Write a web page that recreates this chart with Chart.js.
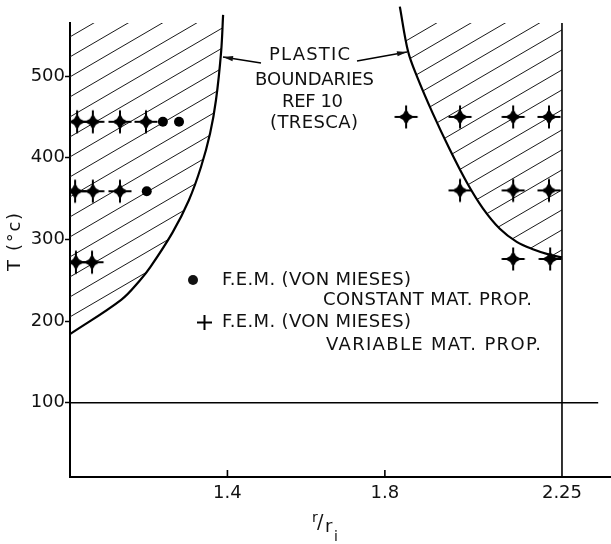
<!DOCTYPE html>
<html><head><meta charset="utf-8">
<script src="https://cdn.jsdelivr.net/npm/chart.js@4"></script>
<style>html,body{margin:0;padding:0;background:#fff;overflow:hidden}#wrap{width:611px;height:544px;position:relative;overflow:hidden}canvas{display:block}</style>
</head><body><div id="wrap"><canvas id="c" width="611" height="544"></canvas></div>
<script>
// ---- data ----
const xTicks = [1.4, 1.8, 2.25];
const xTickLabels = ['1.4', '1.8', '2.25'];
const yTicks = [100, 200, 300, 400, 500];
const xRange = [1.0, 2.372];
const yRange = [9, 565];

const leftBoundR = [1.000, 1.130, 1.178, 1.204, 1.260, 1.302, 1.333, 1.356, 1.371, 1.384, 1.389];
const leftBoundT = [184, 226, 250, 266, 308, 348, 389, 430, 471, 530, 575];
const rightBoundR = [1.838, 1.859, 1.882, 1.922, 1.965, 2.009, 2.049, 2.092, 2.135, 2.176, 2.220, 2.250];
const rightBoundT = [585, 530, 499, 454, 410, 369, 338, 313, 297, 288, 281, 278];

const constR = [1.236, 1.277, 1.195];
const constT = [444, 444, 359];
const varR = [1.018, 1.058, 1.127, 1.193, 1.013, 1.058, 1.127, 1.015, 1.056,
              1.854, 1.991, 2.126, 2.217, 1.991, 2.126, 2.217, 2.126, 2.220];
const varT = [444, 444, 444, 444, 359, 359, 359, 272, 272,
              450, 450, 450, 450, 360, 360, 360, 276, 276];
const refLineT = 100;
const refLineR = [1.0, 2.342];
const outerR = 2.25;

// ---- helpers ----
const FONT = '"DejaVu Sans"';
const pts = (rs, ts) => rs.map((r, i) => ({x: r, y: ts[i]}));

function makeHatch() {
  const W = 240, H = 20, c = document.createElement('canvas');
  c.width = W; c.height = H;
  const g = c.getContext('2d');
  g.strokeStyle = '#1a1a1a'; g.lineWidth = 1;
  const phase = 17.7;
  for (let k = -2; k <= 10; k++) {
    g.beginPath();
    g.moveTo(0, phase + 20 * k);
    g.lineTo(W, phase + 20 * k - 140);
    g.stroke();
  }
  return g.createPattern(c, 'repeat');
}
const hatch = makeHatch();

function makeStar() {
  const S = 26, c = document.createElement('canvas');
  c.width = S; c.height = S;
  const g = c.getContext('2d'), m = S / 2;
  g.strokeStyle = '#000'; g.lineWidth = 2;
  g.beginPath(); g.moveTo(1.5, m); g.lineTo(S - 1.5, m); g.moveTo(m, 1.5); g.lineTo(m, S - 1.5); g.stroke();
  g.fillStyle = '#000';
  g.beginPath();
  const ro = 8.2, ri = 4.2;
  for (let i = 0; i < 8; i++) {
    const a = i * Math.PI / 4;
    const r = i % 2 === 0 ? ro : ri;
    const px = m + r * Math.cos(a), py = m + r * Math.sin(a);
    if (i === 0) g.moveTo(px, py); else g.lineTo(px, py);
  }
  g.closePath(); g.fill();
  return c;
}
const star = makeStar();

function drawFit(ctx, text, x, y, w, align) {
  ctx.letterSpacing = '0px';
  const m = ctx.measureText(text).width;
  const n = text.length;
  const ls = n > 1 ? (w - m) / (n - 1) : 0;
  ctx.letterSpacing = ls + 'px';
  const x0 = align === 'center' ? x - w / 2 : x;
  ctx.textAlign = 'left';
  ctx.fillText(text, x0, y);
  ctx.letterSpacing = '0px';
}

function arrow(ctx, x1, y1, x2, y2) {
  ctx.beginPath(); ctx.moveTo(x1, y1); ctx.lineTo(x2, y2); ctx.stroke();
  const a = Math.atan2(y2 - y1, x2 - x1), L = 10, h = 2.6;
  ctx.beginPath();
  ctx.moveTo(x2, y2);
  ctx.lineTo(x2 - L * Math.cos(a) + h * Math.sin(a), y2 - L * Math.sin(a) - h * Math.cos(a));
  ctx.lineTo(x2 - L * Math.cos(a) - h * Math.sin(a), y2 - L * Math.sin(a) + h * Math.cos(a));
  ctx.closePath(); ctx.fill();
}

const annot = {
  id: 'annot',
  afterDraw(chart) {
    const ctx = chart.ctx, xs = chart.scales.x;
    ctx.save();
    ctx.fillStyle = '#111'; ctx.strokeStyle = '#000';
    // inward x ticks
    ctx.lineWidth = 1.6;
    xTicks.slice(0, 2).forEach(v => {
      const px = xs.getPixelForValue(v);
      ctx.beginPath(); ctx.moveTo(px, chart.chartArea.bottom); ctx.lineTo(px, chart.chartArea.bottom - 7); ctx.stroke();
    });
    ctx.textBaseline = 'middle';
    ctx.font = '18px ' + FONT;
    // annotation
    drawFit(ctx, 'PLASTIC', 309.5, 55, 81, 'center');
    drawFit(ctx, 'BOUNDARIES', 314.5, 80, 119, 'center');
    drawFit(ctx, 'REF 10', 312.5, 102, 61, 'center');
    drawFit(ctx, '(TRESCA)', 314, 123, 88, 'center');
    ctx.lineWidth = 1.3;
    arrow(ctx, 261, 63, 223, 57);
    arrow(ctx, 357, 61, 407, 52);
    // legend
    ctx.beginPath(); ctx.arc(193, 280, 5, 0, Math.PI * 2); ctx.fill();
    ctx.lineWidth = 2;
    ctx.beginPath(); ctx.moveTo(197, 322.5); ctx.lineTo(212, 322.5); ctx.moveTo(204.5, 315); ctx.lineTo(204.5, 330); ctx.stroke();
    drawFit(ctx, 'F.E.M. (VON MIESES)', 222, 280, 189, 'left');
    drawFit(ctx, 'CONSTANT MAT. PROP.', 323, 300, 209, 'left');
    drawFit(ctx, 'F.E.M. (VON MIESES)', 222, 322, 189, 'left');
    drawFit(ctx, 'VARIABLE MAT. PROP.', 326, 345, 215, 'left');
    // y title
    ctx.save();
    ctx.translate(15, 242); ctx.rotate(-Math.PI / 2);
    drawFit(ctx, 'T (°c)', 0, 0, 58, 'center');
    ctx.restore();
    // x title r/ri
    ctx.textAlign = 'left';
    ctx.font = '14px ' + FONT; ctx.fillText('r', 312, 518);
    ctx.font = '19px ' + FONT; ctx.fillText('/', 317, 523);
    ctx.font = '18px ' + FONT; ctx.fillText('r', 325, 527);
    ctx.font = '14px ' + FONT; ctx.fillText('i', 334, 537);
    ctx.restore();
  }
};

Chart.defaults.font.family = FONT;
Chart.defaults.color = '#111';

const curveBase = {type: 'line', pointRadius: 0, cubicInterpolationMode: 'default', tension: 0.35, capBezierPoints: false};

new Chart(document.getElementById('c'), {
  type: 'scatter',
  data: {datasets: [
    Object.assign({}, curveBase, {label: 'left hatch', data: pts(leftBoundR, leftBoundT), fill: 'end', backgroundColor: hatch, borderWidth: 0, order: 6}),
    Object.assign({}, curveBase, {label: 'right hatch', data: pts(rightBoundR, rightBoundT), fill: 'end', backgroundColor: hatch, borderWidth: 0, order: 6}),
    Object.assign({}, curveBase, {label: 'Plastic boundary (left)', data: pts(leftBoundR, leftBoundT), fill: false, borderColor: '#000', borderWidth: 2.2, clip: {left: 2, top: 20, right: 0, bottom: 0}, order: 3}),
    Object.assign({}, curveBase, {label: 'Plastic boundary (right)', data: pts(rightBoundR, rightBoundT), fill: false, borderColor: '#000', borderWidth: 2.2, clip: {left: 0, top: 20, right: 0, bottom: 0}, order: 3}),
    {type: 'line', label: 'T=100', data: pts(refLineR, [refLineT, refLineT]), borderColor: '#000', borderWidth: 1.5, pointRadius: 0, fill: false, order: 4},
    {type: 'line', label: 'r/ri=2.25', data: pts([outerR, outerR], yRange), borderColor: '#000', borderWidth: 1.6, pointRadius: 0, fill: false, order: 4},
    {label: 'F.E.M. constant', data: pts(constR, constT), pointStyle: 'circle', pointRadius: 5, backgroundColor: '#000', borderColor: '#000', borderWidth: 0, order: 1},
    {label: 'F.E.M. variable', data: pts(varR, varT), pointStyle: star, pointRadius: 12, order: 1}
  ]},
  options: {
    animation: false, responsive: false, maintainAspectRatio: false, devicePixelRatio: 1,
    layout: {autoPadding: false, padding: {top: 23, right: 1, left: 0, bottom: 0}},
    plugins: {legend: {display: false}, tooltip: {enabled: false}},
    scales: {
      x: {
        type: 'linear', min: xRange[0], max: xRange[1],
        afterBuildTicks: s => { s.ticks = xTicks.map(v => ({value: v})); },
        afterFit: s => { s.height = 67; s.paddingLeft = 0; s.paddingRight = 0; },
        ticks: {font: {size: 18}, padding: -2, maxRotation: 0, autoSkip: false,
                callback: v => { const i = xTicks.indexOf(v); return i >= 0 ? xTickLabels[i] : ''; }},
        grid: {display: false},
        border: {display: true, width: 2, color: '#000'}
      },
      y: {
        type: 'linear', min: yRange[0], max: yRange[1],
        afterBuildTicks: s => { s.ticks = yTicks.map(v => ({value: v})); },
        afterFit: s => { s.width = 70; s.paddingTop = 0; s.paddingBottom = 0; },
        ticks: {font: {size: 18}, padding: 0, autoSkip: false, callback: v => String(v)},
        grid: {display: true, drawOnChartArea: false, drawTicks: true, tickLength: 5, tickWidth: 1.5, tickColor: '#000'},
        border: {display: true, width: 2, color: '#000'}
      }
    }
  },
  plugins: [annot]
});
</script>
</body></html>
